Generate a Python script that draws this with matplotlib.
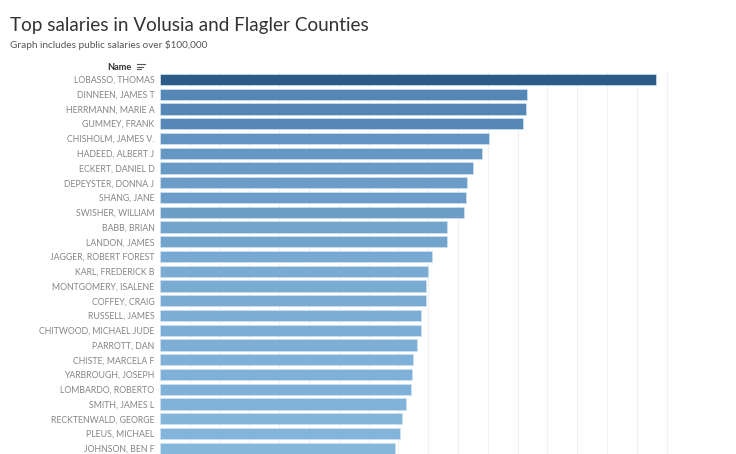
import matplotlib
matplotlib.use("Agg")
import matplotlib.pyplot as plt
from matplotlib.colors import LinearSegmentedColormap
from matplotlib.lines import Line2D
import numpy as np

names = ["LOBASSO, THOMAS", "DINNEEN, JAMES T", "HERRMANN, MARIE A", "GUMMEY, FRANK",
         "CHISHOLM, JAMES V.", "HADEED, ALBERT J", "ECKERT, DANIEL D", "DEPEYSTER, DONNA J",
         "SHANG, JANE", "SWISHER, WILLIAM", "BABB, BRIAN", "LANDON, JAMES",
         "JAGGER, ROBERT FOREST", "KARL, FREDERICK B", "MONTGOMERY, ISALENE", "COFFEY, CRAIG",
         "RUSSELL, JAMES", "CHITWOOD, MICHAEL JUDE", "PARROTT, DAN", "CHISTE, MARCELA F",
         "YARBROUGH, JOSEPH", "LOMBARDO, ROBERTO", "SMITH, JAMES L", "RECKTENWALD, GEORGE",
         "PLEUS, MICHAEL", "JOHNSON, BEN F"]
salaries = [332900, 246300, 245800, 243800, 221000, 216100, 210300, 205800,
            205400, 204200, 192400, 192400, 182500, 179700, 178500, 178500,
            175000, 175200, 172300, 169800, 168900, 168300, 164900, 162400,
            161300, 157900]

title = "Top salaries in Volusia and Flagler Counties"
subtitle = "Graph includes public salaries over $100,000"
header = "Name"

W, H = 736, 454
fig = plt.figure(figsize=(W / 100, H / 100), dpi=100)
fig.patch.set_facecolor("white")

# axes geometry in pixels
ax_left, ax_right = 160, 684
ax_top, ax_bottom = 72, 454
ax = fig.add_axes([ax_left / W, 1 - ax_bottom / H, (ax_right - ax_left) / W, (ax_bottom - ax_top) / H])

px_per_unit = 29.8 / 20000.0
xmax = (ax_right - ax_left) / px_per_unit
pitch = 14.76
nrows = (ax_bottom - ax_top) / pitch

vmin, vmax = 100000, max(salaries)
stops = [0.0, 0.25, 0.63, 1.0]
cmap = LinearSegmentedColormap.from_list(
    "tblue", list(zip(stops, ["#a5cdec", "#85b6dc", "#5487b6", "#2c5a86"])), N=256)
colors = [cmap((s - vmin) / (vmax - vmin)) for s in salaries]

y = np.arange(len(names))
ax.barh(y, salaries, height=0.76, color=colors, edgecolor="#cfe2f1", linewidth=0.5, zorder=2)

ax.set_xlim(0, xmax)
ax.set_ylim(-0.5 + nrows, -0.5)
ax.set_xticks(np.arange(20000, 340001, 20000))
ax.xaxis.grid(True, color="#f0f0f0", linewidth=0.8, zorder=0)
ax.set_axisbelow(True)
ax.tick_params(axis="x", length=0, labelbottom=False)
ax.set_yticks(y)
ax.set_yticklabels(names, fontsize=6.3, color="#858585", family="Lato")
ax.tick_params(axis="y", length=0, pad=4)
for s in ax.spines.values():
    s.set_visible(False)

fig.text(10 / W, 1 - 25 / H, title, fontsize=13.6, color="#333333", family="Lato",
         ha="left", va="center")
fig.text(10 / W, 1 - 45 / H, subtitle, fontsize=7.2, color="#555555", family="Lato",
         ha="left", va="center")
fig.text(132 / W, 1 - 67 / H, header, fontsize=6.6, color="#333333", family="Lato",
         fontweight="bold", ha="right", va="center")
# sort icon
for i, (x0, x1) in enumerate([(137, 145), (137, 143), (137, 141)]):
    yy = 1 - (64 + i * 2.5) / H
    fig.add_artist(Line2D([x0 / W, x1 / W], [yy, yy], color="#555555", linewidth=0.8))

fig.savefig("out.png", dpi=100, facecolor="white")
